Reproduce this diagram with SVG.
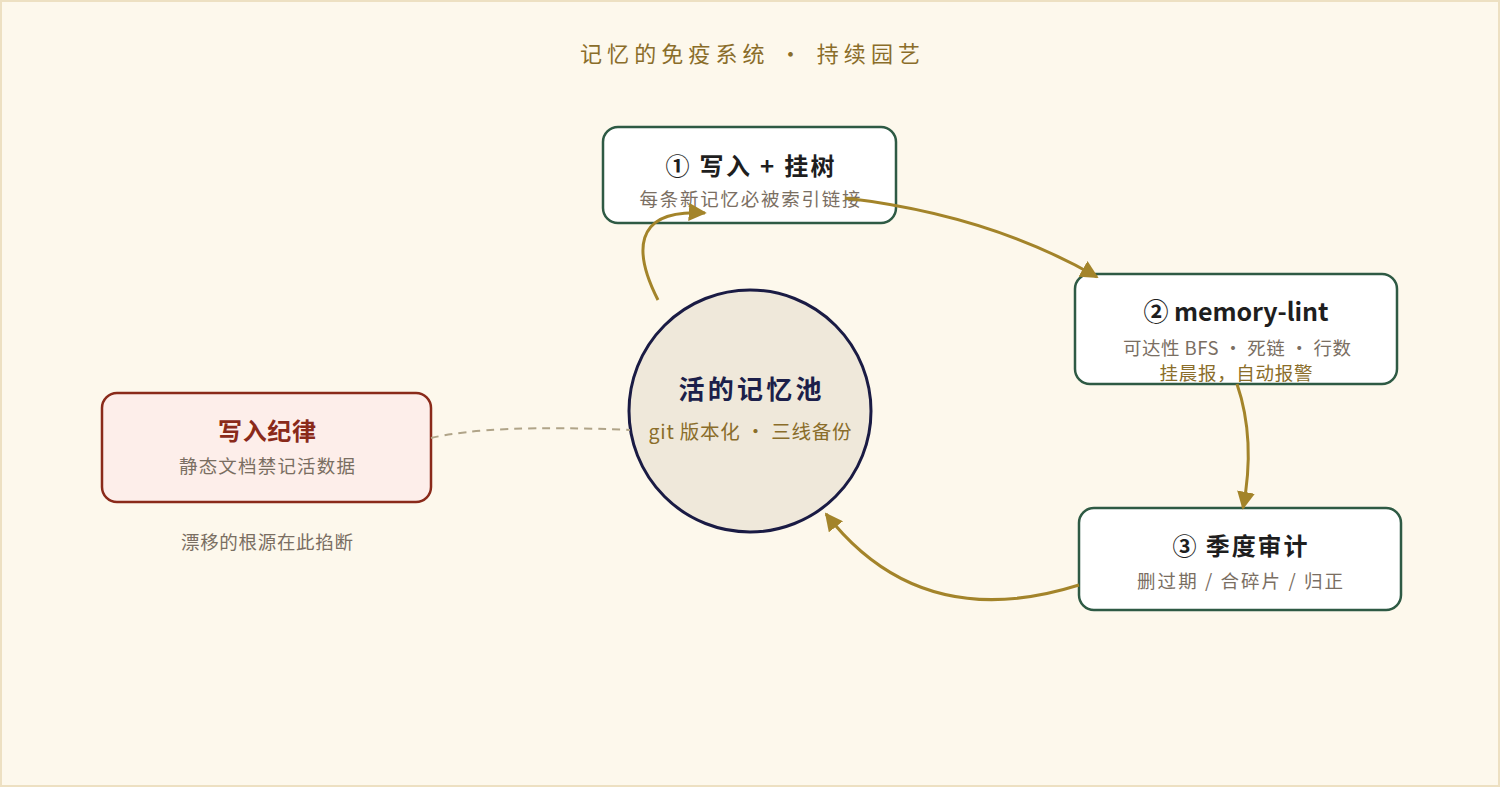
<svg xmlns="http://www.w3.org/2000/svg" width="1500" height="787" viewBox="0 0 1500 787">
<style>
text{font-family:"Noto Sans CJK SC","Noto Sans",sans-serif;text-anchor:middle}
.box{fill:#ffffff;stroke:#2e5a44;stroke-width:2.5}
.t{font-size:24px;font-weight:bold;fill:#1e1e1e}
.s{font-size:18.5px;fill:#7a6e62}
.g{font-size:18.5px;fill:#8a6d2a}
.c{fill:none;stroke:#a3842a;stroke-width:3}
</style>
<defs>
<marker id="ah" viewBox="0 0 10 10" refX="9" refY="5" markerWidth="18" markerHeight="18" markerUnits="userSpaceOnUse" orient="auto">
<path d="M0,0 L10,5 L0,10 z" fill="#a3842a"/>
</marker>
</defs>
<rect x="1" y="1" width="1498" height="785" fill="#fdf8ec" stroke="#ede0c2" stroke-width="2"/>
<text x="750" y="62" textLength="340" lengthAdjust="spacing" style="font-size:22px;fill:#8a6d2a">记忆的免疫系统 · 持续园艺</text>

<g id="pool">
<circle cx="750" cy="411" r="121" fill="#efe8da" stroke="#1a1b44" stroke-width="3"/>
<text x="750" y="399" textLength="143" lengthAdjust="spacing" style="font-size:26px;font-weight:bold;fill:#1c1f4a">活的记忆池</text>
<text x="750" y="439" textLength="203" lengthAdjust="spacing" style="font-size:19.5px;fill:#8a6d2a">git 版本化 · 三线备份</text>
</g>

<g id="step1">
<rect class="box" x="603" y="127" width="293" height="96" rx="15"/>
<text class="t" x="750" y="175" textLength="169" lengthAdjust="spacing">① 写入 + 挂树</text>
<text class="s" x="750" y="206" textLength="221" lengthAdjust="spacing">每条新记忆必被索引链接</text>
</g>

<g id="step2">
<rect class="box" x="1075" y="274" width="322" height="110" rx="15"/>
<text class="t" x="1236" y="321" textLength="185" lengthAdjust="spacing" style="font-size:25px">② memory-lint</text>
<text class="s" x="1237" y="355" textLength="228" lengthAdjust="spacing">可达性 BFS · 死链 · 行数</text>
<text class="g" x="1236" y="380" textLength="153" lengthAdjust="spacing">挂晨报，自动报警</text>
</g>

<g id="step3">
<rect class="box" x="1079" y="508" width="322" height="102" rx="15"/>
<text class="t" x="1240" y="555" textLength="135" lengthAdjust="spacing">③ 季度审计</text>
<text class="s" x="1240" y="588" textLength="206" lengthAdjust="spacing">删过期 / 合碎片 / 归正</text>
</g>

<g id="discipline">
<rect x="102" y="393" width="329" height="109" rx="15" fill="#fdeeea" stroke="#8a2a1a" stroke-width="2.5"/>
<text x="267" y="440" textLength="98" lengthAdjust="spacing" style="font-size:24px;font-weight:bold;fill:#8a2a1a">写入纪律</text>
<text class="s" x="267" y="473" textLength="176" lengthAdjust="spacing">静态文档禁记活数据</text>
</g>

<g id="caption">
<text class="s" x="267" y="549" textLength="172" lengthAdjust="spacing">漂移的根源在此掐断</text>
</g>

<g id="connectors">
<path class="c" d="M658,300 C635,255 630,208 705,213" marker-end="url(#ah)"/>
<path class="c" d="M845,198 Q990,215 1097,277" marker-end="url(#ah)"/>
<path class="c" d="M1237,384 Q1256,440 1243,508" marker-end="url(#ah)"/>
<path class="c" d="M1079,585 Q920,635 826,514" marker-end="url(#ah)"/>
<path d="M431,438 Q490,424 630,430" fill="none" stroke="#b0a488" stroke-width="2" stroke-dasharray="8 6"/>
</g>
</svg>
